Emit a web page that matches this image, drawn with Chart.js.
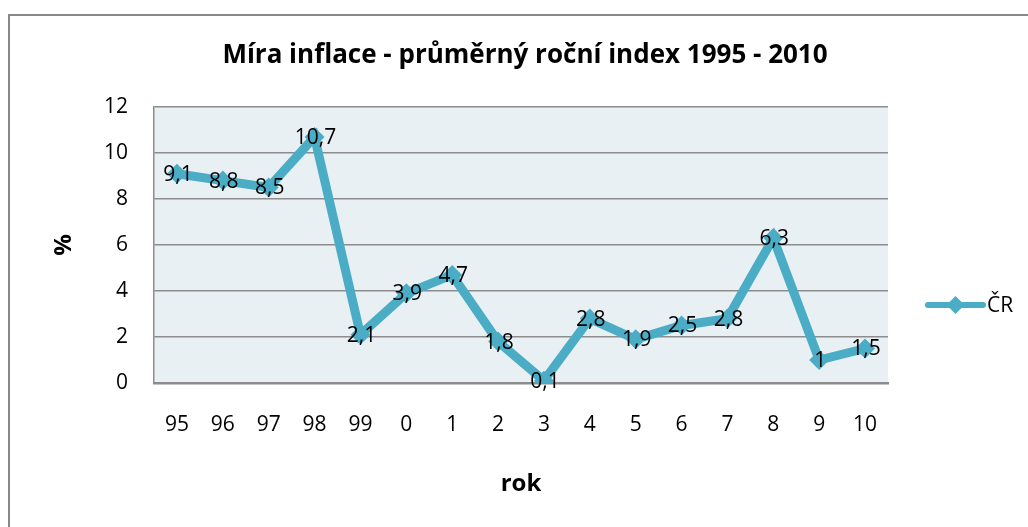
<!DOCTYPE html>
<html>
<head>
<meta charset="utf-8">
<script src="https://cdn.jsdelivr.net/npm/chart.js@4.4.1/dist/chart.umd.min.js"></script>
<style>
  body { margin: 0; background: #fff; overflow: hidden; }
  .frame { position: absolute; left: 8px; top: 14px; width: 1200px; height: 700px; border: 2px solid #888; }
  #chart { position: absolute; left: 0; top: 0; }
</style>
</head>
<body>
<div class="frame"></div>
<canvas id="chart" width="1028" height="527"></canvas>
<script>
// data
const years = ['95', '96', '97', '98', '99', '0', '1', '2', '3', '4', '5', '6', '7', '8', '9', '10'];
const inflace = [9.1, 8.8, 8.5, 10.7, 2.1, 3.9, 4.7, 1.8, 0.1, 2.8, 1.9, 2.5, 2.8, 6.3, 1, 1.5];
const yTicks = [0, 2, 4, 6, 8, 10, 12];
const chartTitle = 'Míra inflace - průměrný roční index 1995 - 2010';

const FONT = '"Open Sans", Lato, sans-serif';
const LINE_COLOR = '#4bacc6';
const GRID_COLOR = '#8c8c8c';

function fmt(v) {
  return String(v).replace('.', ',');
}

// pozadí plochy grafu
const plotBg = {
  id: 'plotBg',
  beforeDraw(chart) {
    const { ctx, chartArea: a } = chart;
    ctx.save();
    ctx.fillStyle = '#e9f0f4';
    ctx.fillRect(a.left, a.top, a.right - a.left, a.bottom - a.top);
    ctx.restore();
  }
};

// nadpis vycentrovaný na celý rámeček (ne jen na plochu grafu)
const centeredTitle = {
  id: 'centeredTitle',
  afterDraw(chart) {
    const { ctx } = chart;
    ctx.save();
    ctx.font = 'bold 26px ' + FONT;
    ctx.fillStyle = '#000';
    ctx.textAlign = 'center';
    ctx.textBaseline = 'middle';
    ctx.fillText(chartTitle, 525, 56);
    ctx.restore();
  }
};

// popisky hodnot
const valueLabels = {
  id: 'valueLabels',
  afterDatasetsDraw(chart) {
    const { ctx } = chart;
    const meta = chart.getDatasetMeta(0);
    const data = chart.data.datasets[0].data;
    ctx.save();
    ctx.font = '21px ' + FONT;
    ctx.fillStyle = '#000';
    ctx.textAlign = 'center';
    ctx.textBaseline = 'middle';
    meta.data.forEach((pt, i) => {
      ctx.fillText(fmt(data[i]), pt.x + 1, pt.y + 1);
    });
    ctx.restore();
  }
};

// legenda vpravo (čára s kosočtvercem)
const sideLegend = {
  id: 'sideLegend',
  afterDraw(chart) {
    const { ctx } = chart;
    const ds = chart.data.datasets[0];
    const x0 = 928, x1 = 983, y = 305;
    ctx.save();
    ctx.strokeStyle = ds.borderColor;
    ctx.lineWidth = 6;
    ctx.lineCap = 'round';
    ctx.beginPath();
    ctx.moveTo(x0, y);
    ctx.lineTo(x1, y);
    ctx.stroke();
    const cx = (x0 + x1) / 2, r = 9;
    ctx.fillStyle = ds.pointBackgroundColor;
    ctx.beginPath();
    ctx.moveTo(cx, y - r);
    ctx.lineTo(cx + r, y);
    ctx.lineTo(cx, y + r);
    ctx.lineTo(cx - r, y);
    ctx.closePath();
    ctx.fill();
    ctx.fillStyle = '#000';
    ctx.font = '21px ' + FONT;
    ctx.textBaseline = 'middle';
    ctx.fillText(ds.label, x1 + 4, y + 1);
    ctx.restore();
  }
};

new Chart(document.getElementById('chart'), {
  type: 'line',
  data: {
    labels: years,
    datasets: [{
      label: 'ČR',
      data: inflace,
      borderColor: LINE_COLOR,
      borderWidth: 9,
      pointStyle: 'rectRot',
      pointRadius: 10,
      pointBackgroundColor: LINE_COLOR,
      pointBorderWidth: 0,
      tension: 0
    }]
  },
  options: {
    responsive: false,
    animation: false,
    layout: { padding: { left: 50, right: 140, top: 107, bottom: 24 } },
    plugins: {
      legend: { display: false },
      tooltip: { enabled: false },
      title: { display: false }
    },
    scales: {
      x: {
        offset: true,
        grid: { display: false, drawTicks: false },
        border: { color: GRID_COLOR, width: 2.5 },
        ticks: { color: '#000', font: { family: FONT, size: 21 }, padding: 29 },
        title: {
          display: true,
          text: 'rok',
          color: '#000',
          font: { family: FONT, size: 24, weight: 'bold' },
          padding: { top: 4 }
        }
      },
      y: {
        min: 0,
        max: 12,
        afterBuildTicks(scale) {
          scale.ticks = yTicks.map(v => ({ value: v }));
        },
        afterFit(scale) {
          scale.width = 104;
        },
        grid: { color: GRID_COLOR, lineWidth: 1.5, drawTicks: false },
        border: { color: GRID_COLOR, width: 1.5 },
        ticks: { color: '#000', font: { family: FONT, size: 21 }, padding: 26 },
        title: {
          display: true,
          text: '%',
          color: '#000',
          font: { family: FONT, size: 24, weight: 'bold' },
          padding: 0
        }
      }
    }
  },
  plugins: [plotBg, valueLabels, sideLegend, centeredTitle]
});
</script>
</body>
</html>
